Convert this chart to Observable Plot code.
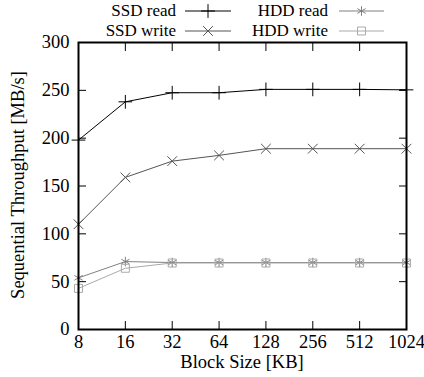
<!DOCTYPE html>
<html>
<head>
<meta charset="utf-8">
<script src="https://cdn.jsdelivr.net/npm/d3@7"></script>
<script src="https://cdn.jsdelivr.net/npm/@observablehq/plot@0.6"></script>
<style>
  body { margin: 0; background: #fff; }
  #chart { position: relative; width: 424px; height: 377px; }
</style>
</head>
<body>
<div id="chart"></div>
<script>
const blockSizes = [8, 16, 32, 64, 128, 256, 512, 1024];
const ssdRead  = [198, 238, 247.5, 247.5, 251, 251, 251, 250.5];
const ssdWrite = [110, 159, 176, 182, 189, 189, 189, 189];
const hddRead  = [54, 71, 70, 70, 70, 70, 70, 70];
const hddWrite = [43, 64, 69.5, 69.5, 69.5, 69.5, 69.5, 69.5];
const yTicks = [0, 50, 100, 150, 200, 250, 300];
const seriesNames = ["SSD read", "SSD write", "HDD read", "HDD write"];
const seriesColors = ["#000000", "#555555", "#808080", "#aaaaaa"];
const seriesSymbols = ["plus", "times", "asterisk", "square"];
const seriesValues = [ssdRead, ssdWrite, hddRead, hddWrite];

const rows = [];
seriesNames.forEach((name, i) => {
  blockSizes.forEach((b, j) => rows.push({series: name, block: b, value: seriesValues[i][j]}));
});

const font = "'Liberation Serif', 'Times New Roman', serif";
const fs = 18.5;

const marks = [];
// ticks pointing inward on all four sides
marks.push(Plot.axisX(blockSizes, {anchor: "bottom", tickSize: -8, text: null, label: null, strokeWidth: 1}));
marks.push(Plot.axisX(blockSizes, {anchor: "top", tickSize: -8, text: null, label: null, strokeWidth: 1}));
marks.push(Plot.axisY(yTicks, {anchor: "left", tickSize: -8, text: null, label: null, strokeWidth: 1}));
marks.push(Plot.axisY(yTicks, {anchor: "right", tickSize: -8, text: null, label: null, strokeWidth: 1}));
// labels
marks.push(Plot.axisX(blockSizes, {anchor: "bottom", tickSize: 0, tickPadding: 5, fontSize: fs, tickFormat: d => String(d), label: null}));
marks.push(Plot.axisY(yTicks, {anchor: "left", tickSize: 0, tickPadding: 9, fontSize: fs, label: null}));

seriesNames.forEach((name, i) => {
  const data = rows.filter(r => r.series === name);
  marks.push(Plot.line(data, {x: "block", y: "value", stroke: seriesColors[i], strokeWidth: 1}));
  marks.push(Plot.dot(data, {x: "block", y: "value", stroke: seriesColors[i], symbol: seriesSymbols[i], r: 4.5, fill: "none", strokeWidth: 1}));
});
marks.push(Plot.frame({stroke: "#000", strokeWidth: 2}));

const plot = Plot.plot({
  width: 424,
  height: 377,
  marginLeft: 78,
  marginRight: 18,
  marginTop: 42,
  marginBottom: 48,
  style: {fontFamily: font, fontSize: fs + "px", background: "#fff", color: "#000"},
  x: {type: "log", base: 2, domain: [8, 1024], axis: null},
  y: {domain: [0, 300], axis: null},
  marks
});

const svg = d3.select(plot);
// axis titles
svg.append("text")
  .attr("x", 242).attr("y", 368)
  .attr("text-anchor", "middle")
  .attr("font-family", font).attr("font-size", fs)
  .text("Block Size [KB]");
svg.append("text")
  .attr("transform", "translate(24,185) rotate(-90)")
  .attr("text-anchor", "middle")
  .attr("font-family", font).attr("font-size", fs)
  .text("Sequential Throughput [MB/s]");

// legend
const legendFs = 17;
const legendSymbols = [d3.symbolPlus, d3.symbolTimes, d3.symbolAsterisk, d3.symbolSquare];
const pos = {
  "SSD read":  {tx: 176, y: 11, x1: 185, x2: 231},
  "SSD write": {tx: 176, y: 31, x1: 185, x2: 231},
  "HDD read":  {tx: 328, y: 11, x1: 339, x2: 384},
  "HDD write": {tx: 328, y: 31, x1: 339, x2: 384}
};
const g = svg.append("g");
seriesNames.forEach((name, i) => {
  const p = pos[name];
  g.append("text").attr("x", p.tx).attr("y", p.y).attr("dy", "0.32em")
    .attr("text-anchor", "end").attr("font-family", font).attr("font-size", legendFs)
    .text(name);
  g.append("line").attr("x1", p.x1).attr("x2", p.x2).attr("y1", p.y).attr("y2", p.y)
    .attr("stroke", seriesColors[i]).attr("stroke-width", 1);
  const sym = d3.symbol(legendSymbols[i], Math.PI * 4.5 * 4.5);
  g.append("path").attr("d", sym()).attr("transform", `translate(${(p.x1 + p.x2) / 2},${p.y})`)
    .attr("fill", "none").attr("stroke", seriesColors[i]).attr("stroke-width", 1);
});

document.getElementById("chart").appendChild(plot);
</script>
</body>
</html>
